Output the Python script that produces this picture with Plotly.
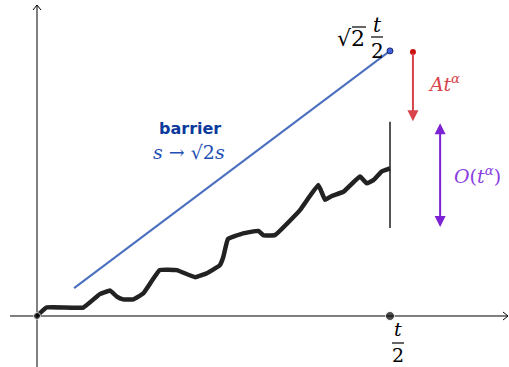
import plotly.graph_objects as go

# Random-walk path s -> W(s) on [0, t/2]  (t/2 = 10 units)
path_s = [0, 0.27, 1.31, 1.78, 2.07, 2.26, 2.44, 2.73, 3.01, 3.48, 3.96, 4.48, 4.81,
          5.18, 5.28, 5.41, 5.84, 6.27, 6.41, 6.74, 7.45, 7.97, 8.16, 8.35, 8.68,
          9.15, 9.34, 9.53, 9.76, 10.0]
path_w = [0, 0.24, 0.24, 0.62, 0.72, 0.55, 0.47, 0.47, 0.64, 1.30, 1.30, 1.10, 1.21,
          1.44, 1.68, 2.18, 2.34, 2.41, 2.29, 2.29, 3.00, 3.71, 3.29, 3.40, 3.52,
          3.95, 3.76, 3.85, 4.09, 4.18]

# Barrier line s -> sqrt(2) s, ending at sqrt(2) t/2
barrier_s = [1.05, 10.0]
barrier_w = [0.79, 7.51]

half_t = 10.0
gap_x, gap_top, gap_bottom = 10.65, 7.48, 5.52        # A t^alpha arrow
spread_x, spread_top, spread_bottom = 11.42, 5.50, 2.52  # O(t^alpha) arrow
fluct_top, fluct_bottom = 5.50, 2.49                  # fluctuation bar at t/2

X_RANGE = [-1.048, 13.371]
Y_RANGE = [-1.445, 8.952]
W, H = 509, 367


def px(x_pix):
    return X_RANGE[0] + x_pix / W * (X_RANGE[1] - X_RANGE[0])


def py(y_pix):
    return Y_RANGE[1] - y_pix / H * (Y_RANGE[1] - Y_RANGE[0])


BLUE = "#4a6fbf"
RED = "#d9444c"
PURPLE = "#7b22d4"
SERIF = "DejaVu Serif"

fig = go.Figure()

# axes
fig.add_trace(go.Scatter(x=[px(10), px(508)], y=[0, 0], mode="lines",
                         line=dict(color="black", width=1), hoverinfo="skip"))
fig.add_trace(go.Scatter(x=[0, 0], y=[py(367), py(5)], mode="lines",
                         line=dict(color="black", width=1), hoverinfo="skip"))
fig.add_trace(go.Scatter(x=[px(503), px(508), px(503)], y=[py(312), 0, py(320)],
                         mode="lines", line=dict(color="black", width=1), hoverinfo="skip"))
fig.add_trace(go.Scatter(x=[px(33), 0, px(41)], y=[py(10), py(5), py(10)],
                         mode="lines", line=dict(color="black", width=1), hoverinfo="skip"))

# barrier
fig.add_trace(go.Scatter(x=barrier_s, y=barrier_w, mode="lines",
                         line=dict(color=BLUE, width=2), hoverinfo="skip"))
fig.add_trace(go.Scatter(x=[barrier_s[-1]], y=[barrier_w[-1]], mode="markers",
                         marker=dict(color="#4060e0", size=6,
                                     line=dict(color="#1a2a70", width=1)),
                         hoverinfo="skip"))

# fluctuation bar at t/2
fig.add_trace(go.Scatter(x=[half_t, half_t], y=[fluct_bottom, fluct_top], mode="lines",
                         line=dict(color="#555555", width=2), hoverinfo="skip"))

# path
fig.add_trace(go.Scatter(x=path_s, y=path_w, mode="lines",
                         line=dict(color="#222222", width=4.5, shape="spline",
                                   smoothing=0.3),
                         hoverinfo="skip"))

# endpoints on the time axis
fig.add_trace(go.Scatter(x=[0, half_t], y=[0, 0], mode="markers",
                         marker=dict(color="black", size=[7, 9]), hoverinfo="skip"))

# red arrow + dot
fig.add_trace(go.Scatter(x=[gap_x], y=[gap_top], mode="markers",
                         marker=dict(color="#cc1010", size=6), hoverinfo="skip"))

annotations = [
    dict(x=gap_x, y=gap_bottom, ax=gap_x, ay=gap_top, xref="x", yref="y",
         axref="x", ayref="y", showarrow=True, arrowhead=2, arrowsize=1.1,
         arrowwidth=2, arrowcolor=RED, text=""),
    dict(x=spread_x, y=spread_bottom, ax=spread_x, ay=spread_top, xref="x", yref="y",
         axref="x", ayref="y", showarrow=True, arrowhead=2, arrowside="end+start",
         arrowsize=1.1, arrowwidth=2, arrowcolor=PURPLE, text=""),
    dict(x=px(444), y=py(83), text="<i>At</i><sup><i>α</i></sup>", showarrow=False,
         font=dict(family=SERIF, size=19, color=RED)),
    dict(x=px(477), y=py(175), text="<i>O</i>(<i>t</i><sup><i>α</i></sup>)",
         showarrow=False, font=dict(family=SERIF, size=19, color="#8a3ee0")),
    dict(x=px(190), y=py(128), text="<b>barrier</b>", showarrow=False,
         font=dict(family="DejaVu Sans", size=16, color="#0b3a9c")),
    dict(x=px(189), y=py(152), text="<i>s</i> → √2<i>s</i>", showarrow=False,
         font=dict(family=SERIF, size=19, color="#1f4fb5")),
    # sqrt(2) t/2 label
    dict(x=px(351), y=py(38), text="√2", showarrow=False,
         font=dict(family=SERIF, size=22, color="black")),
    dict(x=px(377), y=py(25), text="<i>t</i>", showarrow=False,
         font=dict(family=SERIF, size=20, color="black")),
    dict(x=px(377), y=py(51), text="2", showarrow=False,
         font=dict(family=SERIF, size=20, color="black")),
    # t/2 tick label
    dict(x=px(398), y=py(329), text="<i>t</i>", showarrow=False,
         font=dict(family=SERIF, size=19, color="black")),
    dict(x=px(398), y=py(355), text="2", showarrow=False,
         font=dict(family=SERIF, size=19, color="black")),
]

shapes = [
    # fraction bars
    dict(type="line", x0=px(371), x1=px(383), y0=py(37), y1=py(37),
         line=dict(color="black", width=1.2)),
    dict(type="line", x0=px(392), x1=px(404), y0=py(343), y1=py(343),
         line=dict(color="black", width=1.2)),
    # radical overbar
    dict(type="line", x0=px(352), x1=px(366), y0=py(27), y1=py(27),
         line=dict(color="black", width=1.2)),
]

fig.update_layout(
    width=W, height=H, margin=dict(l=0, r=0, t=0, b=0),
    paper_bgcolor="white", plot_bgcolor="white", showlegend=False,
    xaxis=dict(range=X_RANGE, visible=False, fixedrange=True),
    yaxis=dict(range=Y_RANGE, visible=False, fixedrange=True),
    annotations=annotations, shapes=shapes,
)

fig.write_html("out.html")
